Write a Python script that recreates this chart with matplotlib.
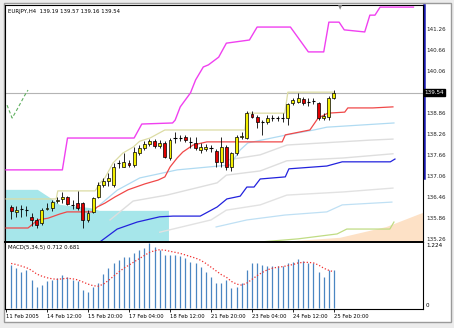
import matplotlib
matplotlib.use("Agg")
import matplotlib.pyplot as plt
from matplotlib.patches import Rectangle

# ---- data (bar index, H4 bars) ----
bars = list(range(1, 65))
opens = [136.27,136.13,136.21,136.18,135.98,135.90,135.81,136.22,136.24,136.45,
         136.51,136.56,136.33,136.38,136.38,135.90,136.13,136.56,136.90,137.01,
         136.90,137.52,137.41,137.53,137.47,137.81,137.95,138.07,138.15,138.01,
         138.10,137.67,138.23,138.24,138.27,138.14,138.10,137.90,137.93,137.96,
         137.87,137.55,137.98,137.41,137.81,138.27,138.24,138.93,138.84,138.71,
         138.70,138.80,138.81,138.80,138.81,139.24,139.27,139.35,139.27,139.30,
         139.24,138.81,138.84,139.38]
highs = [136.33,136.30,136.33,136.30,136.10,135.95,136.24,136.38,136.47,136.56,
         136.70,136.58,136.47,136.73,136.41,136.18,136.56,136.98,137.10,137.24,
         137.53,137.61,137.81,137.61,137.98,138.04,138.15,138.21,138.21,138.18,
         138.15,138.24,138.41,138.33,138.33,138.27,138.27,138.10,138.07,138.04,
         137.93,138.27,138.04,137.84,138.33,138.40,139.01,139.01,138.90,138.75,
         138.90,138.90,138.87,138.95,139.24,139.38,139.53,139.41,139.38,139.38,
         139.27,138.95,139.44,139.61]
lows = [135.93,135.98,135.98,136.01,135.73,135.67,135.76,136.18,136.15,136.38,
        136.38,136.33,136.21,136.18,135.67,135.84,136.10,136.53,136.84,136.87,
        136.84,137.38,137.41,137.41,137.41,137.76,137.90,138.01,137.95,137.95,
        137.67,137.61,138.10,138.15,138.13,137.95,137.90,137.81,137.87,137.84,
        137.41,137.41,137.33,137.30,137.76,138.20,138.21,138.81,138.53,138.33,
        138.64,138.73,138.73,138.70,138.61,139.18,139.24,139.18,139.15,139.21,
        138.75,138.75,138.75,139.35]
closes = [136.15,136.18,136.22,136.17,135.90,135.76,136.18,136.24,136.41,136.47,
          136.55,136.35,136.34,136.24,135.90,136.10,136.53,136.90,137.01,137.10,
          137.41,137.53,137.55,137.47,137.84,137.95,138.07,138.15,138.01,138.10,
          137.70,138.18,138.24,138.23,138.18,138.13,137.95,137.98,137.98,137.95,
          137.55,137.98,137.41,137.81,138.27,138.30,138.95,138.84,138.70,138.70,
          138.81,138.81,138.80,138.81,139.21,139.33,139.38,139.24,139.28,139.29,
          138.81,138.87,139.38,139.54]

macd = [0.81,0.75,0.68,0.72,0.53,0.40,0.43,0.50,0.53,0.56,
        0.62,0.59,0.53,0.50,0.34,0.31,0.40,0.47,0.65,0.75,
        0.84,0.90,0.97,0.97,1.03,1.10,1.14,1.22,1.15,1.10,
        1.00,1.00,1.00,0.98,0.94,0.87,0.84,0.78,0.68,0.59,
        0.47,0.47,0.53,0.37,0.40,0.47,0.72,0.84,0.84,0.81,
        0.79,0.79,0.79,0.79,0.84,0.87,0.92,0.89,0.85,0.84,
        0.68,0.59,0.72,0.712]
signal = [0.84,0.82,0.79,0.76,0.71,0.64,0.60,0.57,0.55,0.54,
          0.55,0.56,0.55,0.53,0.49,0.45,0.42,0.41,0.45,0.52,
          0.60,0.68,0.75,0.81,0.87,0.93,0.99,1.05,1.08,1.10,
          1.09,1.07,1.05,1.03,1.00,0.97,0.94,0.90,0.84,0.77,
          0.70,0.63,0.58,0.50,0.45,0.43,0.47,0.54,0.61,0.67,
          0.72,0.75,0.77,0.78,0.80,0.82,0.85,0.86,0.86,0.85,
          0.81,0.75,0.71,0.681]

# indicator lines: (bar, price) corner points
magenta_x = [0,11,12,25,26.5,32.5,33,34,36,37,38.5,39.5,41.5,43,47.5,49,55.5,59,62,63,65,66,70,71,72,73,79.5]
magenta_y = [137.33,137.33,138.24,138.24,138.64,138.67,138.75,139.13,139.53,139.90,140.27,140.33,140.55,
             140.95,141.04,141.41,141.41,140.70,140.70,141.55,141.55,141.33,141.27,141.75,141.75,141.98,141.98]
red_x = [0,4.3,6.2,8.2,10.5,11.9,16.8,17.8,19.3,21.3,23.8,27.1,29.7,31,32,33.4,34.5,36.5,39.2,46.2,53.9,54.5,59.3,60.9,62.8,66.1,66.7,71.6,75.5]
red_y = [135.67,135.67,135.90,135.95,136.07,136.13,136.13,136.27,136.38,136.56,136.76,136.93,137.04,137.13,
         137.41,137.67,137.84,138.04,138.13,138.13,138.13,138.33,138.47,138.81,138.95,138.98,139.10,139.10,139.13]
khaki_x = [0,9.8,10.1,17.4,18.3,19.3,20.9,22.8,24.8,26.1,28.1,31,46.6,47,54.4,55,64]
khaki_y = [136.50,136.50,136.73,136.73,136.95,137.10,137.53,137.81,137.98,138.15,138.24,138.47,138.47,
           138.95,138.95,139.55,139.55]
ltblue_x = [18.3,21.7,26.1,33.4,43.7,45.7,47.2,54.8,60.1,62.6,75.7]
ltblue_y = [136.33,136.75,137.10,137.33,137.47,137.90,138.10,138.33,138.47,138.55,138.67]
gray1_x = [43,49.6,54.8,65.2,71,75.5]
gray1_y = [137.61,137.76,138.04,138.13,138.18,138.21]
gray2_x = [20.3,24.8,31.4,41.2,43,49.6,54.8,65.8,75.5]
gray2_y = [135.90,136.44,136.61,136.96,137.18,137.30,137.59,137.67,137.79]
gray3_x = [30,40,43,49.6,54.8,65.8,75.5]
gray3_y = [135.55,135.90,136.18,136.33,136.61,136.70,136.81]
blue_x = [17,18.3,21.7,25.6,30,32.6,37.9,41.2,43.1,45.7,47,48.4,49.6,54.5,55.2,62.6,65.6,75,75.9]
blue_y = [135.10,135.27,135.64,135.84,135.99,136.01,136.01,136.27,136.50,136.58,136.84,136.84,137.07,
          137.13,137.36,137.44,137.56,137.56,137.64]
ltblue2_x = [41,47,54.4,62.6,65.6,75.3]
ltblue2_y = [135.70,135.90,136.04,136.13,136.33,136.41]
yelgrn_x = [49.6,57,64.6,66.5,74.9,75.7]
yelgrn_y = [135.27,135.36,135.50,135.64,135.64,135.84]
chikou_x = [0.2,1.2,2.1,3.7,4.3]
chikou_y = [139.18,138.81,139.04,139.47,139.61]
cyan_x = [0,6.2,8.6,10.5,16.4,18.3,31.8,31.8]
cyan_y = [136.76,136.76,136.53,136.33,136.24,136.16,136.16,135.27]
peach_x = [53.5,65.2,74.3,80.8,81.4]
peach_y = [135.27,135.39,135.70,136.07,136.10]

time_ticks = [0, 8, 16, 24, 32, 40, 48, 56, 64]
time_labels = ["11 Feb 2005", "14 Feb 12:00", "15 Feb 20:00", "17 Feb 04:00", "18 Feb 12:00",
               "21 Feb 20:00", "23 Feb 04:00", "24 Feb 12:00", "25 Feb 20:00"]
price_levels = [141.26, 140.66, 140.06, 138.86, 138.26, 137.66, 137.06, 136.46, 135.86, 135.26]
last_price = 139.54

W, H = 454, 328
fig = plt.figure(figsize=(W/100, H/100), dpi=100, facecolor="#ececec")

def fx(px): return px / W
def fy(py): return 1 - py / H

# chart window background
bg = fig.add_axes([0, 0, 1, 1]); bg.set_axis_off()
bg.set_xlim(0, W); bg.set_ylim(H, 0)
bg.add_patch(Rectangle((4, 3), 447, 319, facecolor="white", edgecolor="#9a9a9a", lw=1))
bg.plot([423.5, 423.5], [5, 178], color="#1a1ab0", lw=1.8, zorder=5)

xl = (-0.195, 81.37)
ax = fig.add_axes([fx(5), fy(242), fx(423) - fx(5), fy(5) - fy(242)])
ax.set_xlim(*xl); ax.set_ylim(135.27, 142.04)
ax.set_facecolor("white")

ax.fill(cyan_x + [0], cyan_y + [135.27], color="#a6e6ea", lw=0, zorder=1)
ax.fill(peach_x + [81.4], peach_y + [135.27], color="#fde1c6", lw=0, zorder=1)

ax.axhline(last_price, color="#b4b4b4", lw=0.8, zorder=2)
ax.plot(gray1_x, gray1_y, color="#dedede", lw=1.0, zorder=2)
ax.plot(gray2_x, gray2_y, color="#dedede", lw=1.0, zorder=2)
ax.plot(gray3_x, gray3_y, color="#e2e2e2", lw=1.0, zorder=2)
ax.plot(ltblue2_x, ltblue2_y, color="#bfe0f4", lw=0.9, zorder=2)
ax.plot(yelgrn_x, yelgrn_y, color="#c0dc84", lw=0.9, zorder=2)
ax.plot(blue_x, blue_y, color="#2222dd", lw=0.9, zorder=3)
ax.plot(ltblue_x, ltblue_y, color="#b0dbf2", lw=0.9, zorder=3)
ax.plot(khaki_x, khaki_y, color="#dcdca4", lw=0.9, zorder=3)
ax.plot(red_x, red_y, color="#f04848", lw=0.9, zorder=3)
ax.plot(magenta_x, magenta_y, color="#f040f0", lw=1.0, zorder=3)
ax.plot(chikou_x, chikou_y, color="#60b060", lw=0.8, ls=(0, (3, 2)), zorder=3)

for b, o, h, l, c in zip(bars, opens, highs, lows, closes):
    ax.vlines(b, l, h, color="black", lw=0.6, zorder=4)
    if abs(c - o) < 0.015:
        ax.hlines(c, b - 0.32, b + 0.32, color="black", lw=0.8, zorder=5)
    else:
        col = "#f2ee00" if c > o else "#e00000"
        ax.bar(b, abs(c - o), bottom=min(o, c), width=0.58, color=col,
               edgecolor="black", lw=0.5, zorder=5)

ax.set_xticks([]); ax.set_yticks([])
for s in ax.spines.values():
    s.set_color("black"); s.set_linewidth(0.8)
ax.text(0.008, 0.985, "EURJPY,H4  139.19 139.57 139.16 139.54", transform=ax.transAxes,
        fontsize=3.9, va="top", ha="left", color="black")
ax.text(65.2, 142.04, "\u25bc", fontsize=4, color="#888888", ha="center", va="top")

for lv in price_levels:
    ax.text(1.007, lv, f"{lv:.2f}", transform=ax.get_yaxis_transform(),
            fontsize=4.1, va="bottom", ha="left", color="#222222", clip_on=False)
ax.text(1.004, last_price, f"{last_price:.2f}", transform=ax.get_yaxis_transform(),
        fontsize=4.1, va="center", ha="left", color="white", clip_on=False,
        bbox=dict(boxstyle="square,pad=0.15", fc="black", ec="black"))

# MACD panel
mx = fig.add_axes([fx(5), fy(309), fx(423) - fx(5), fy(242) - fy(309)])
mx.set_xlim(*xl); mx.set_ylim(-0.02, 1.245)
mx.set_facecolor("white")
mx.vlines(bars, 0, macd, color="#4a86c2", lw=0.9)
mx.plot(bars, signal, color="#f03030", lw=0.9, ls=(0, (1, 1.6)))
mx.set_yticks([])
mx.set_xticks(time_ticks)
mx.set_xticklabels(time_labels, fontsize=3.8, ha="left")
mx.tick_params(axis="x", length=2.5, width=0.6, pad=1.0, colors="black")
for s in mx.spines.values():
    s.set_color("black"); s.set_linewidth(0.8)
mx.spines["top"].set_linewidth(1.4)
mx.text(0.008, 0.95, "MACD(5,34,5) 0.712 0.681", transform=mx.transAxes,
        fontsize=3.9, va="top", ha="left", color="black")
mx.text(1.007, 1.224, "1.224", transform=mx.get_yaxis_transform(),
        fontsize=4.1, va="top", ha="left", clip_on=False)
mx.text(1.007, 0.0, "0", transform=mx.get_yaxis_transform(),
        fontsize=4.1, va="bottom", ha="left", clip_on=False)

fig.savefig("out.png", dpi=100, facecolor=fig.get_facecolor())
